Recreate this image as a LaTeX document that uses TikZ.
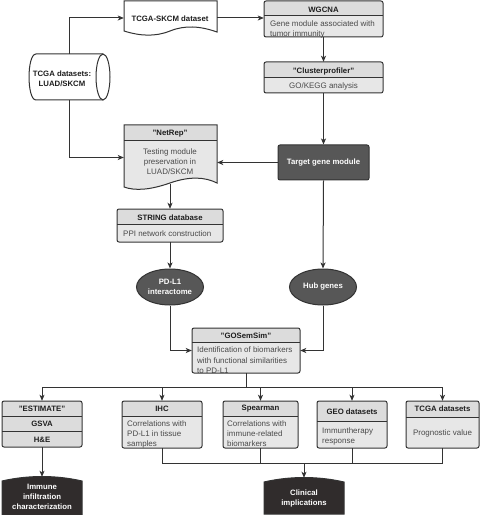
\documentclass[tikz,border=0pt]{standalone}
\usepackage{fontspec}
\setmainfont{Liberation Sans}
\usetikzlibrary{arrows.meta,shapes.geometric,fit}
\definecolor{hdrc}{HTML}{DCDCDC}
\definecolor{bodyc}{HTML}{E7E7E7}
\definecolor{darkc}{HTML}{575757}
\definecolor{termc}{HTML}{302C2C}
\definecolor{linec}{HTML}{333333}
\definecolor{hdrtext}{HTML}{1E1E1E}
\definecolor{bodytext}{HTML}{4A4A4A}
\tikzset{
  hdr/.style={font=\bfseries\fontsize{7.8}{9.5}\selectfont, text=hdrtext, inner sep=0pt},
  body/.style={font=\fontsize{8}{10}\selectfont, text=bodytext, inner sep=0pt},
  ln/.style={draw=linec, line width=1bp},
  frame/.style={draw=linec, line width=1bp, rounded corners=2bp},
  arr/.style={draw=linec, line width=1bp, -{Stealth[length=6bp,width=5bp,inset=1.5bp]}},
  darkbox/.style={rectangle, rounded corners=2bp, fill=darkc, draw=linec, line width=1bp,
    minimum width=91bp, minimum height=35bp, inner sep=0pt, text=white,
    font=\bfseries\fontsize{7.8}{9.5}\selectfont},
  darkell/.style={ellipse, fill=darkc, draw=linec, line width=1bp, minimum width=67bp,
    minimum height=36bp, inner sep=0pt, text=white, align=center,
    font=\bfseries\fontsize{7.8}{10}\selectfont},
  termtext/.style={text=white, align=center, inner sep=0pt,
    font=\bfseries\fontsize{7.8}{10}\selectfont},
}
\newcommand{\hdrbox}[7]{%
  \begin{scope}
    \clip[rounded corners=2bp] (#2,#3) rectangle (#4,#5);
    \fill[bodyc] (#2,#3) rectangle (#4,#5);
    \fill[hdrc] (#2,#3) rectangle (#4,#6);
  \end{scope}
  #7
  \draw[ln] (#2,#6) -- (#4,#6);
  \draw[frame] (#2,#3) rectangle (#4,#5);
  \node[fit={(#2,#3) (#4,#5)}, inner sep=0pt] (#1) {};
}
\begin{document}
\begin{tikzpicture}[x=1bp,y=-1bp]
\useasboundingbox (0,0) rectangle (480,515);

% TCGA-SKCM document
\draw[ln, fill=white] (124,1) -- (217,1) -- (217,32) .. controls (200,26) and (185,25) .. (170,31) .. controls (155,37) and (140,36) .. (124,31) -- cycle;
\node[fit={(124,1) (217,35)}, inner sep=0pt] (skcm) {};
\node[hdr] at (170,19) {TCGA-SKCM dataset};

% cylinder
\draw[ln, fill=white] (103,54) -- (36,54) .. controls (26.7,54) and (26.7,100) .. (36,100) -- (103,100);
\draw[ln, fill=white] (103,77) ellipse [x radius=7, y radius=23];
\node[fit={(29,54) (110,100)}, inner sep=0pt] (cyl) {};
\node[hdr, align=center, font=\bfseries\fontsize{7.8}{10}\selectfont] at (62,78.5) {TCGA datasets:\\LUAD/SKCM};

% WGCNA
\hdrbox{wgcna}{264}{1}{383}{37}{16}{%
  \node[hdr] at (323.5,9.5) {WGCNA};
  \node[body, anchor=west, align=left] at (270,29) {Gene module associated with\\tumor immunity};
}

% Clusterprofiler
\hdrbox{clus}{264}{62}{383}{93}{78}{%
  \node[hdr] at (323.5,71) {"Clusterprofiler"};
  \node[body] at (323.5,86) {GO/KEGG analysis};
}

% Target gene module
\node[darkbox] (target) at (323.5,162.5) {Target gene module};

% NetRep
\begin{scope}
  \clip (124,187) -- (124,125) -- (217,125) -- (217,183) .. controls (205,177) and (190,176) .. (170,183) .. controls (150,190) and (135,191) .. (124,187) -- cycle;
  \fill[bodyc] (124,125) rectangle (217,195);
  \fill[hdrc] (124,125) rectangle (217,141);
\end{scope}
\node[hdr] at (170,133.5) {"NetRep"};
\node[body, align=center] at (170,162) {Testing module\\preservation in\\LUAD/SKCM};
\draw[ln] (124,141) -- (217,141);
\draw[ln] (124,187) -- (124,125) -- (217,125) -- (217,183) .. controls (205,177) and (190,176) .. (170,183) .. controls (150,190) and (135,191) .. (124,187) -- cycle;
\node[fit={(124,125) (217,190)}, inner sep=0pt] (netrep) {};
\coordinate (nrb) at (170,184);

% STRING
\hdrbox{string}{117}{209}{223}{242}{224}{%
  \node[hdr] at (170,217.5) {STRING database};
  \node[body, anchor=west] at (123,234) {PPI network construction};
}

% ellipses
\node[darkell] (pdl1) at (170,287) {PD-L1\\interactome};
\node[darkell] (hub) at (323,287) {Hub genes};

% GOSemSim
\hdrbox{gosem}{192}{328}{300}{373}{342}{%
  \node[hdr] at (246,335.5) {"GOSemSim"};
  \node[body, anchor=west, align=left, font=\fontsize{8}{10.5}\selectfont] at (197,360.5) {Identification of biomarkers\\with functional similarities\\to PD-L1};
}

% ESTIMATE
\begin{scope}
  \clip[rounded corners=2bp] (2,401) rectangle (82,447);
  \fill[hdrc] (2,401) rectangle (82,447);
\end{scope}
\node[hdr] at (42,409) {"ESTIMATE"};
\node[hdr] at (42,424) {GSVA};
\node[hdr] at (42,439.5) {H\&E};
\draw[ln] (2,416) -- (82,416);
\draw[ln] (2,431) -- (82,431);
\draw[frame] (2,401) rectangle (82,447);
\node[fit={(2,401) (82,447)}, inner sep=0pt] (estimate) {};

% IHC
\hdrbox{ihc}{122}{401}{202}{448}{416}{%
  \node[hdr] at (162,409) {IHC};
  \node[body, anchor=west, align=left] at (127,434) {Correlations with\\PD-L1 in tissue\\samples};
}

% Spearman
\hdrbox{spear}{223}{401}{298}{448}{416}{%
  \node[hdr] at (260.5,409) {Spearman};
  \node[body, anchor=west, align=left] at (227,434) {Correlations with\\immune-related\\biomarkers};
}

% GEO
\hdrbox{geo}{317}{401}{387}{448}{421}{%
  \node[hdr] at (352,412) {GEO datasets};
  \node[body, anchor=west, align=left] at (322,436.5) {Immuntherapy\\response};
}

% TCGA datasets
\hdrbox{tcga}{406}{401}{479}{448}{417}{%
  \node[hdr] at (442.5,409) {TCGA datasets};
  \node[body] at (442.5,433) {Prognostic value};
}

% terminals
\draw[ln, fill=termc] (2,515) -- (2,481) .. controls (28,475) and (56,475) .. (82,481) -- (82,515) -- cycle;
\node[fit={(2,477) (82,515)}, inner sep=0pt] (immune) {};
\node[termtext] at (42,497) {Immune\\infiltration\\characterization};

\draw[ln, fill=termc] (264,514) -- (264,482) .. controls (290,476) and (318,476) .. (344,482) -- (344,514) -- cycle;
\node[fit={(264,478) (344,514)}, inner sep=0pt] (clinical) {};
\node[termtext] at (304,498.5) {Clinical\\implications};

% connectors
\draw[arr] (cyl.north) |- (skcm.west);
\draw[arr] (cyl.south) |- (netrep.west);
\draw[arr] (skcm.east) -- (skcm.east -| wgcna.west);
\draw[arr] (wgcna.south) -- (clus.north);
\draw[arr] (clus.south) -- (target.north);
\draw[arr] (target.west) -- (target.west -| netrep.east);
\draw[arr] (nrb) -- (string.north);
\draw[arr] (target.south) -- (hub.north);
\draw[arr] (string.south) -- (pdl1.north);
\draw[arr] (pdl1.south) |- (gosem.west);
\draw[arr] (hub.south) |- (gosem.east);

\coordinate (bus) at (246,387);
\draw[ln] (gosem.south) -- (bus);
\draw[ln] (estimate.north |- bus) -- (tcga.north |- bus);
\draw[arr] (estimate.north |- bus) -- (estimate.north);
\draw[arr] (ihc.north |- bus) -- (ihc.north);
\draw[arr] (spear.north |- bus) -- (spear.north);
\draw[arr] (geo.north |- bus) -- (geo.north);
\draw[arr] (tcga.north |- bus) -- (tcga.north);
\draw[arr] (estimate.south) -- (immune.north);

\coordinate (bus2) at (304,463);
\draw[ln] (ihc.south) -- (ihc.south |- bus2) -- (tcga.south |- bus2) -- (tcga.south);
\draw[ln] (spear.south) -- (spear.south |- bus2);
\draw[ln] (geo.south) -- (geo.south |- bus2);
\draw[arr] (bus2) -- (clinical.north);
\end{tikzpicture}
\end{document}
